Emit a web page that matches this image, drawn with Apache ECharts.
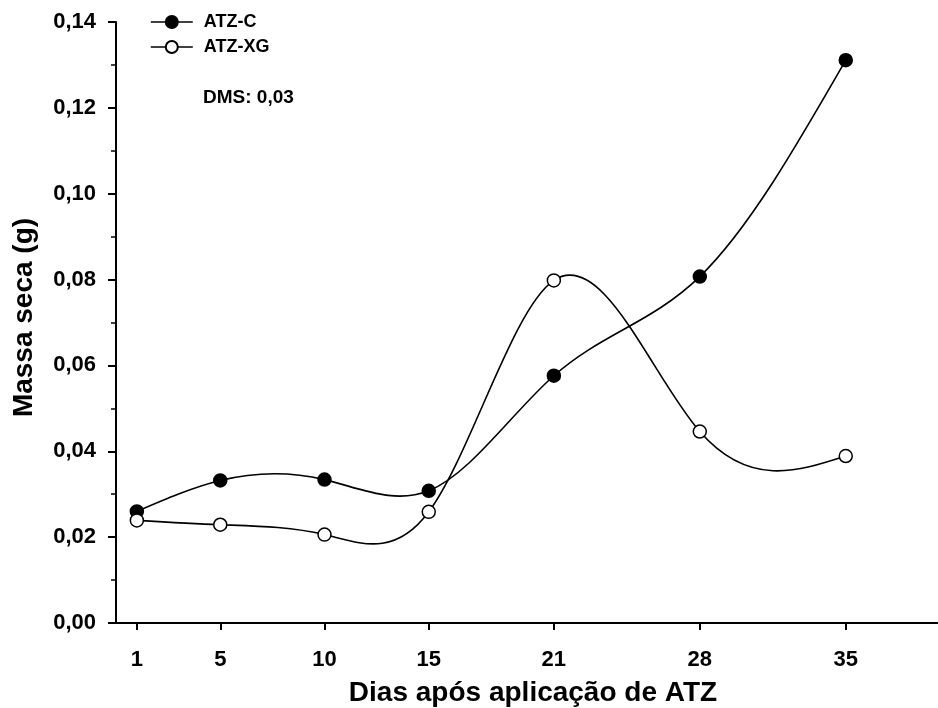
<!DOCTYPE html>
<html>
<head>
<meta charset="utf-8">
<title>Massa seca</title>
<script src="https://cdn.jsdelivr.net/npm/echarts@6/dist/echarts.min.js"></script>
<style>
  html, body { margin: 0; padding: 0; background: #fff; }
  #chart { width: 938px; height: 708px; }
</style>
</head>
<body>
<div id="chart"></div>
<script>
// Days after ATZ application
const days = [1, 5, 10, 15, 21, 28, 35];
// Dry mass (g)
const atzC = [0.0260, 0.0332, 0.0334, 0.0308, 0.0576, 0.0807, 0.1311];
const atzXG = [0.0239, 0.0229, 0.0206, 0.0259, 0.0798, 0.0446, 0.0389];
const yTicks = [0, 0.02, 0.04, 0.06, 0.08, 0.10, 0.12, 0.14];
const dmsText = 'DMS: 0,03';

const FONT = '"Liberation Sans", Arial, sans-serif';

// Slopes of a natural cubic spline through (xs, ys)
function splineSlopes(xs, ys) {
  const n = xs.length;
  const h = [];
  for (let i = 0; i < n - 1; i++) h.push(xs[i + 1] - xs[i]);
  const M = new Array(n).fill(0);
  if (n > 2) {
    const a = [], b = [], c = [], r = [];
    for (let i = 1; i < n - 1; i++) {
      a.push(h[i - 1]);
      b.push(2 * (h[i - 1] + h[i]));
      c.push(h[i]);
      r.push(6 * ((ys[i + 1] - ys[i]) / h[i] - (ys[i] - ys[i - 1]) / h[i - 1]));
    }
    const m = b.length;
    for (let i = 1; i < m; i++) {
      const w = a[i] / b[i - 1];
      b[i] -= w * c[i - 1];
      r[i] -= w * r[i - 1];
    }
    const sol = new Array(m);
    sol[m - 1] = r[m - 1] / b[m - 1];
    for (let i = m - 2; i >= 0; i--) sol[i] = (r[i] - c[i] * sol[i + 1]) / b[i];
    for (let i = 0; i < m; i++) M[i + 1] = sol[i];
  }
  const d = [];
  for (let i = 0; i < n - 1; i++) {
    d.push((ys[i + 1] - ys[i]) / h[i] - h[i] * (2 * M[i] + M[i + 1]) / 6);
  }
  d.push((ys[n - 1] - ys[n - 2]) / h[n - 2] + h[n - 2] * (M[n - 2] + 2 * M[n - 1]) / 6);
  return d;
}

// Spline curve series: each item draws the Bezier segment to the next point
function curveSeries(name, ys) {
  const slopes = splineSlopes(days, ys);
  return {
    type: 'custom',
    name: name,
    coordinateSystem: 'cartesian2d',
    silent: true,
    z: 1,
    encode: { x: 0, y: 1 },
    data: days.map((d, i) => [d, ys[i]]),
    renderItem: function (params, api) {
      const i = params.dataIndex;
      if (i >= days.length - 1) return null;
      const x0 = days[i], x1 = days[i + 1], h = x1 - x0;
      const p0 = api.coord([x0, ys[i]]);
      const p1 = api.coord([x0 + h / 3, ys[i] + slopes[i] * h / 3]);
      const p2 = api.coord([x1 - h / 3, ys[i + 1] - slopes[i + 1] * h / 3]);
      const p3 = api.coord([x1, ys[i + 1]]);
      return {
        type: 'bezierCurve',
        shape: {
          x1: p0[0], y1: p0[1], x2: p3[0], y2: p3[1],
          cpx1: p1[0], cpy1: p1[1], cpx2: p2[0], cpy2: p2[1]
        },
        style: { stroke: '#000', lineWidth: 1.6, fill: null }
      };
    }
  };
}

function markerSeries(name, ys, fill) {
  return {
    type: 'line',
    name: name,
    z: 3,
    data: days.map((d, i) => [d, ys[i]]),
    symbol: 'circle',
    symbolSize: 13,
    showAllSymbol: true,
    lineStyle: { opacity: 0 },
    itemStyle: { color: fill, borderColor: '#000', borderWidth: 1.5 },
    emphasis: { disabled: true }
  };
}

const chart = echarts.init(document.getElementById('chart'), null, { renderer: 'canvas' });

chart.setOption({
  animation: false,
  backgroundColor: '#fff',
  textStyle: { fontFamily: FONT, color: '#000' },
  // the x axis runs on past the right edge of the page
  grid: { left: 116, top: 22, width: 834, height: 601, outerBoundsMode: 'none', containLabel: false },
  legend: {
    data: ['ATZ-C', 'ATZ-XG'],
    orient: 'vertical',
    left: 150,
    top: 13,
    padding: 0,
    itemWidth: 42,
    itemHeight: 15,
    itemGap: 7,
    selectedMode: false,
    lineStyle: { color: '#000', width: 1.6, opacity: 1 },
    textStyle: { fontFamily: FONT, fontSize: 18, fontWeight: 'bold', color: '#000', padding: [0, 0, 0, 6] }
  },
  graphic: [{
    type: 'text',
    left: 203,
    top: 88,
    style: { text: dmsText, fontFamily: FONT, fontSize: 19, fontWeight: 'bold', fill: '#000' }
  }],
  xAxis: {
    type: 'value',
    min: 0,
    max: 40,
    name: 'Dias após aplicação de ATZ',
    nameLocation: 'middle',
    nameGap: 56,
    nameTextStyle: { fontFamily: FONT, fontSize: 28, fontWeight: 'bold', color: '#000' },
    axisLine: { lineStyle: { color: '#000', width: 2 } },
    axisTick: { show: true, length: 7, lineStyle: { color: '#000', width: 2 }, customValues: days },
    axisLabel: {
      customValues: days,
      margin: 26,
      fontFamily: FONT, fontSize: 22, fontWeight: 'bold', color: '#000'
    },
    splitLine: { show: false }
  },
  yAxis: {
    type: 'value',
    min: 0,
    max: 0.14,
    interval: 0.02,
    name: 'Massa seca (g)',
    nameLocation: 'middle',
    nameGap: 78,
    nameTextStyle: { fontFamily: FONT, fontSize: 28, fontWeight: 'bold', color: '#000', padding: [0, 0, 0, 10] },
    axisLine: { show: true, lineStyle: { color: '#000', width: 2 } },
    axisTick: { show: true, length: 8, lineStyle: { color: '#000', width: 2 } },
    minorTick: { show: true, splitNumber: 2, length: 5, lineStyle: { color: '#000', width: 1.5 } },
    axisLabel: {
      customValues: yTicks,
      margin: 20,
      fontFamily: FONT, fontSize: 22, fontWeight: 'bold', color: '#000',
      formatter: v => v.toFixed(2).replace('.', ',')
    },
    splitLine: { show: false }
  },
  series: [
    curveSeries('ATZ-C curve', atzC),
    curveSeries('ATZ-XG curve', atzXG),
    markerSeries('ATZ-C', atzC, '#000'),
    markerSeries('ATZ-XG', atzXG, '#fff')
  ]
});
</script>
</body>
</html>
